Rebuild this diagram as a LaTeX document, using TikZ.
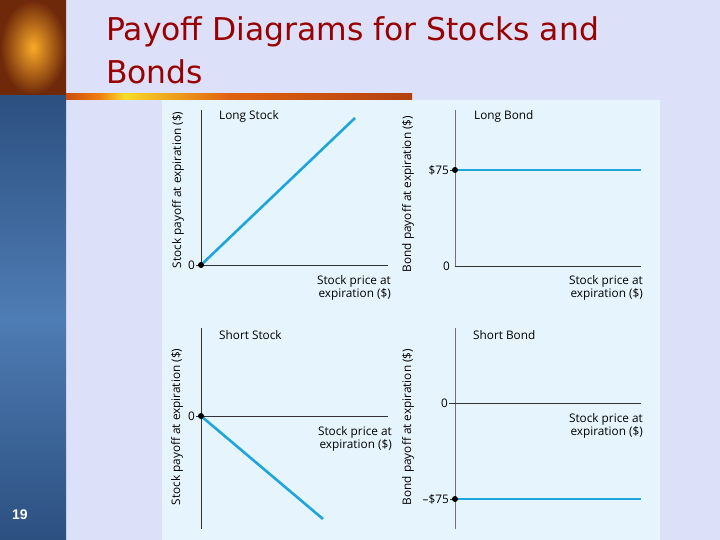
\documentclass[tikz,border=0pt]{standalone}
\usepackage{fontspec}
\setmainfont{Open Sans}
\newfontfamily\titlefont{DejaVu Sans}
\newfontfamily\pagefont{Liberation Sans}
\usetikzlibrary{positioning}
\definecolor{slidebg}{RGB}{220,224,249}
\definecolor{panelbg}{RGB}{230,245,253}
\definecolor{titlered}{RGB}{153,0,0}
\definecolor{payoffblue}{RGB}{30,165,220}
\definecolor{axisgray}{RGB}{50,50,50}
\definecolor{bondgray}{RGB}{115,115,115}
\definecolor{stripdark}{RGB}{44,80,128}
\definecolor{striplight}{RGB}{78,124,180}
\pgfdeclarehorizontalshading{rulebar}{100bp}{rgb(0bp)=(0.80,0.30,0.05); rgb(25bp)=(0.80,0.30,0.05); rgb(29.9bp)=(0.94,0.50,0.06); rgb(33.5bp)=(0.97,0.86,0.16); rgb(38.6bp)=(0.94,0.69,0.12); rgb(48.7bp)=(0.88,0.38,0.06); rgb(75bp)=(0.70,0.25,0.06); rgb(100bp)=(0.70,0.25,0.06)}
\newcommand\plotfont{\fontsize{11.8}{13.3}\selectfont}
\begin{document}
\begin{tikzpicture}[x=1pt,y=-1pt]
    \tikzstyle{axis}=[draw=axisgray,line width=0.9pt];
    \tikzstyle{bondaxis}=[draw=bondgray,line width=1pt];
    \tikzstyle{payoff}=[draw=payoffblue,line width=2.6pt];
    \tikzstyle{dot}=[circle,fill=black,inner sep=0pt,minimum size=6pt];
    \tikzstyle{val}=[anchor=east,inner sep=1pt,font=\plotfont];
    \tikzstyle{caption}=[anchor=base west,inner sep=0pt,font=\plotfont];
    \tikzstyle{xlab}=[anchor=north east,align=right,inner sep=0pt,font=\plotfont];
    \tikzstyle{ylab}=[rotate=90,inner sep=0pt,font=\plotfont];
    \tikzstyle{heading}=[anchor=base west,inner sep=0pt,text=titlered,font=\titlefont\fontsize{31.4}{38}\selectfont];
    \useasboundingbox (0,0) rectangle (720,540);
    %slide background
    \fill[slidebg] (0,0) rectangle (720,540);
    \shade[top color=stripdark,bottom color=stripdark,middle color=striplight] (0,95) rectangle (66,540);
    \shade[inner color={rgb,255:red,250;green,170;blue,40},outer color={rgb,255:red,110;green,40;blue,10}] (0,0) rectangle (66,95);
    \shade[shading=rulebar] (66,94) rectangle (412,100);
    \fill[panelbg] (162,100) rectangle (660,540);
    \node[heading] (title1) at (106,41) {Payoff Diagrams for Stocks and};
    \node[heading] (title2) at (106,83.5) {Bonds};
    \node[text=white,font=\pagefont\bfseries\fontsize{14}{16}\selectfont] (page) at (20,515) {19};
    %long stock
    \coordinate (ls0) at (201,265);
    \coordinate (lsT) at (201,110);
    \coordinate (lsX) at (388,265);
    \coordinate (lsE) at (355,118);
    \coordinate (lsK) at (196,265);
    \draw[axis] (lsT) -- (ls0) -- (lsX);
    \draw[axis] (lsK) -- (ls0);
    \draw[payoff] (ls0) -- (lsE);
    \node[dot] (lsd) at (ls0) {};
    \node[val] (lsv) at (lsK) {0};
    \node[caption] (lsc) at (219,120) {Long Stock};
    \node[xlab] (lsx) at (391,275) {Stock price at\\expiration (\$)};
    \node[ylab] (lsy) at (178,190) {Stock payoff at expiration (\$)};
    %long bond
    \coordinate (lb0) at (455,266);
    \coordinate (lbT) at (455,110);
    \coordinate (lbX) at (641,266);
    \coordinate (lbP) at (455,170);
    \coordinate (lbE) at (641,170);
    \coordinate (lbK) at (450,170);
    \draw[bondaxis] (lbT) -- (lb0);
    \draw[axis] (lb0) -- (lbX);
    \draw[axis] (lbK) -- (lbP);
    \draw[payoff] (lbP) -- (lbE);
    \node[dot] (lbd) at (lbP) {};
    \node[val] (lbv) at (lbK) {\$75};
    \node[val] (lbz) at (451,266) {0};
    \node[caption] (lbc) at (474,120) {Long Bond};
    \node[xlab] (lbx) at (643,275) {Stock price at\\expiration (\$)};
    \node[ylab] (lby) at (408,194) {Bond payoff at expiration (\$)};
    %short stock
    \coordinate (ss0) at (201,416);
    \coordinate (ssT) at (201,328);
    \coordinate (ssB) at (201,529);
    \coordinate (ssX) at (388,416);
    \coordinate (ssE) at (323,519);
    \coordinate (ssK) at (196,416);
    \draw[axis] (ssT) -- (ssB);
    \draw[axis] (ssK) -- (ssX);
    \draw[payoff] (ss0) -- (ssE);
    \node[dot] (ssd) at (ss0) {};
    \node[val] (ssv) at (ssK) {0};
    \node[caption] (ssc) at (219,339) {Short Stock};
    \node[xlab] (ssx) at (392,426) {Stock price at\\expiration (\$)};
    \node[ylab] (ssy) at (177,427) {Stock payoff at expiration (\$)};
    %short bond
    \coordinate (sb0) at (455,403);
    \coordinate (sbT) at (455,328);
    \coordinate (sbB) at (455,529);
    \coordinate (sbX) at (641,403);
    \coordinate (sbK) at (449,403);
    \coordinate (sbP) at (455,499);
    \coordinate (sbE) at (641,499);
    \coordinate (sbL) at (450,499);
    \draw[bondaxis] (sbT) -- (sbB);
    \draw[axis] (sbK) -- (sbX);
    \draw[axis] (sbL) -- (sbP);
    \draw[payoff] (sbP) -- (sbE);
    \node[dot] (sbd) at (sbP) {};
    \node[val] (sbv) at (sbK) {0};
    \node[val] (sbm) at (sbL) {\textendash\$75};
    \node[caption] (sbc) at (473,339) {Short Bond};
    \node[xlab] (sbx) at (643,413) {Stock price at\\expiration (\$)};
    \node[ylab] (sby) at (408,427) {Bond payoff at expiration (\$)};
  \end{tikzpicture}
\end{document}
